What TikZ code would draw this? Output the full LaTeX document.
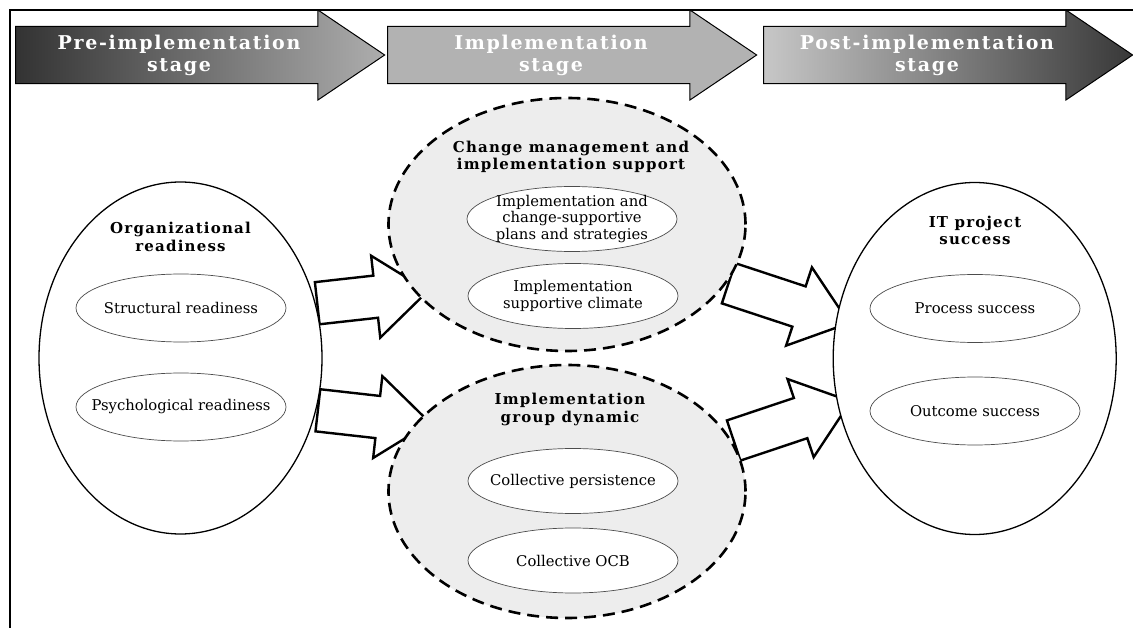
\documentclass[tikz,border=0pt]{standalone}
\usepackage{fontspec}
\setmainfont{DejaVu Serif}
\usetikzlibrary{shapes.geometric,shapes.arrows,calc}
\pgfdeclarelayer{background}
\pgfsetlayers{background,main}

\tikzset{
  stage/.style={single arrow, draw=black, line width=1pt, minimum width=90pt,
    single arrow head extend=12pt, single arrow tip angle=68, minimum height=369pt,
    inner sep=0pt, text=white, align=center,
    font=\fontsize{19}{22}\selectfont\bfseries\addfontfeature{LetterSpace=9}},
  outer/.style={ellipse, draw, line width=1.3pt, fill=white,
    minimum width=283pt, minimum height=352pt},
  phase/.style={ellipse, draw, line width=2.6pt, dash pattern=on 12pt off 7pt,
    fill=black!7, minimum width=357pt, minimum height=253pt},
  part/.style={ellipse, draw=black!70, line width=0.7pt, fill=white,
    minimum width=210pt, minimum height=68pt, inner xsep=-16pt, inner ysep=-3pt,
    align=center, font=\fontsize{14.8}{16.2}\selectfont},
  head/.style={align=center,
    font=\fontsize{15}{17.5}\selectfont\bfseries\addfontfeature{LetterSpace=8}},
  blockarr/.style={single arrow, draw, line width=2.4pt, fill=white,
    minimum width=80pt, single arrow head extend=20pt, single arrow tip angle=76,
    inner xsep=0pt, inner ysep=20pt, sloped}
}

\begin{document}
\begin{tikzpicture}[x=1pt,y=-1pt]
\useasboundingbox (0,0) rectangle (1133,628);
\clip (0,0) rectangle (1133,628);
\draw[line width=1.6pt] (10,650) -- (10,10) -- (1150,10); % frame

% stages
\node[stage, left color=black!80, middle color=black!22, right color=black!32] (pre) at (179,55) {Pre-implementation\\stage};
\node[stage, fill=black!30] (impl) at (551,55) {Implementation\\stage};
\node[stage, left color=black!22, middle color=black!30, right color=black!78] (post) at (927,55) {Post-implementation\\stage};

% readiness
\node[outer] (org) at (180.5,358) {};
\node[head] at (180.5,237) {Organizational\\readiness};
\node[part] (str) at (181,308) {Structural readiness};
\node[part] (psy) at (181,407) {Psychological readiness};

% change management
\node[phase] (cms) at (567,224.5) {};
\node[head] at (571,157) {Change management and\\implementation support};
\node[part, minimum height=65pt] (plan) at (572,219) {Implementation and\\change-supportive\\plans and strategies};
\node[part, minimum height=65pt] (clim) at (573,296) {Implementation\\supportive climate};

% group dynamic
\node[phase] (igd) at (567,491.5) {};
\node[head] at (570,409.5) {Implementation\\group dynamic};
\node[part, minimum height=65pt] (pers) at (573,481) {Collective persistence};
\node[part, minimum height=65pt] (ocb) at (573,560.5) {Collective OCB};

% success
\node[outer] (its) at (974.7,358.5) {};
\node[head] at (975,230.5) {IT project\\success};
\node[part] (proc) at (975,308.5) {Process success};
\node[part] (outc) at (975,411) {Outcome success};

\begin{pgfonlayer}{background}
\fill[white] (0,0) rectangle (1133,628);
\path let \p1=($(org.22)!-12pt!(cms.204)$), \p2=(cms.204), \n1={veclen(\x2-\x1,\y2-\y1)} in (\p1) -- (\p2) node[blockarr, midway, minimum height=\n1] {};
\path let \p1=($(org.339)!-12pt!(igd.155)$), \p2=(igd.155), \n1={veclen(\x2-\x1,\y2-\y1)} in (\p1) -- (\p2) node[blockarr, midway, minimum height=\n1] {};
\path let \p1=($(cms.340)!-12pt!(its.164)$), \p2=(its.164), \n1={veclen(\x2-\x1,\y2-\y1)} in (\p1) -- (\p2) node[blockarr, midway, minimum height=\n1] {};
\path let \p1=($(igd.17)!-12pt!(its.199)$), \p2=(its.199), \n1={veclen(\x2-\x1,\y2-\y1)} in (\p1) -- (\p2) node[blockarr, midway, minimum height=\n1] {};
\end{pgfonlayer}
\end{tikzpicture}
\end{document}
